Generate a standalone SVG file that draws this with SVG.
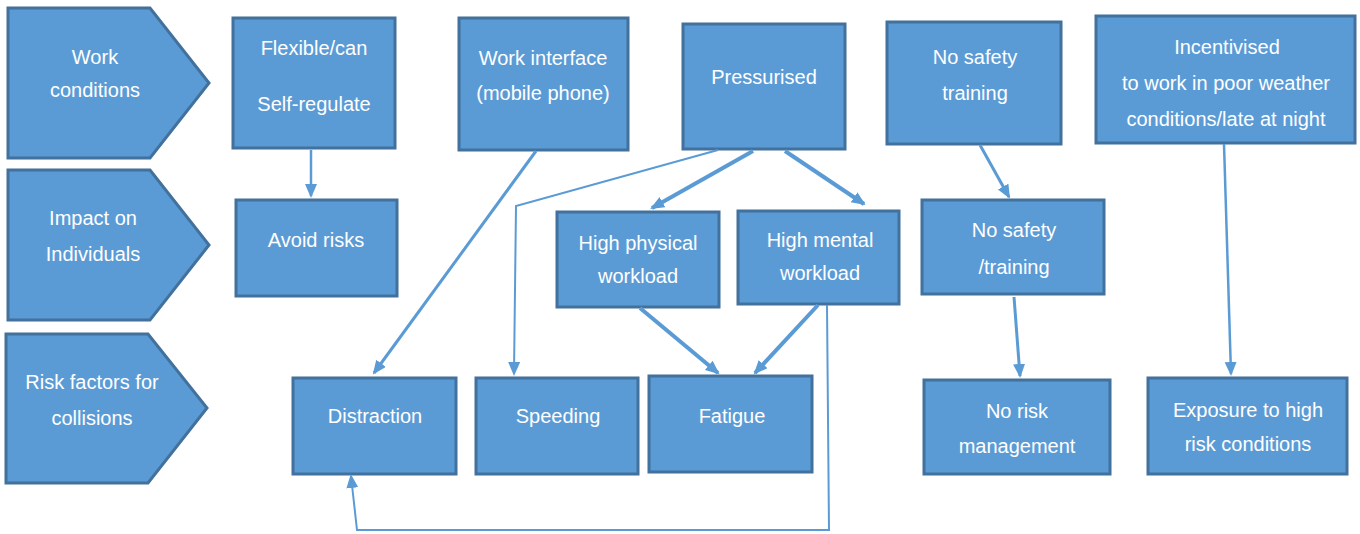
<svg xmlns="http://www.w3.org/2000/svg" width="1360" height="534" viewBox="0 0 1360 534">
<style>
.n{fill:#5B9BD5;stroke:#41719C;stroke-width:3}
.t{font-family:"Liberation Sans",Arial,sans-serif;font-size:20px;fill:#FFFFFF;text-anchor:middle}
.c{fill:none;stroke:#5B9BD5;stroke-linecap:butt}
</style>
<defs>
<marker id="ah" markerUnits="userSpaceOnUse" markerWidth="16" markerHeight="14" refX="12" refY="6" orient="auto">
<path d="M0,0 L14,6 L0,12 Z" fill="#5B9BD5"/>
</marker>
</defs>
<rect width="1360" height="534" fill="#FFFFFF"/>
<g id="row-work-conditions"><polygon class="n" points="8,8 150,8 209,83 150,158 8,158"/><text class="t" x="95" y="64">Work</text><text class="t" x="95" y="97">conditions</text></g>
<g id="row-impact"><polygon class="n" points="8,170 150,170 209,245 150,320 8,320"/><text class="t" x="93" y="225">Impact on</text><text class="t" x="93" y="261">Individuals</text></g>
<g id="row-risk"><polygon class="n" points="6,334 148,334 207,408 148,483 6,483"/><text class="t" x="92" y="389">Risk factors for</text><text class="t" x="92" y="425">collisions</text></g>
<g id="flexible"><rect class="n" x="233" y="18" width="162" height="130"/><text class="t" x="314" y="55">Flexible/can</text><text class="t" x="314" y="111">Self-regulate</text></g>
<g id="avoid-risks"><rect class="n" x="236" y="200" width="161" height="96"/><text class="t" x="316" y="247">Avoid risks</text></g>
<g id="work-interface"><rect class="n" x="459" y="18" width="169" height="132"/><text class="t" x="543" y="65">Work interface</text><text class="t" x="543" y="100">(mobile phone)</text></g>
<g id="pressurised"><rect class="n" x="683" y="24" width="162" height="125"/><text class="t" x="764" y="84">Pressurised</text></g>
<g id="no-safety-training"><rect class="n" x="887" y="22" width="174" height="122"/><text class="t" x="975" y="64">No safety</text><text class="t" x="975" y="100">training</text></g>
<g id="incentivised"><rect class="n" x="1096" y="16" width="259" height="127"/><text class="t" x="1227" y="54">Incentivised</text><text class="t" x="1226" y="90">to work in poor weather</text><text class="t" x="1226" y="126">conditions/late at night</text></g>
<g id="high-physical"><rect class="n" x="557" y="212" width="162" height="95"/><text class="t" x="638" y="250">High physical</text><text class="t" x="638" y="283">workload</text></g>
<g id="high-mental"><rect class="n" x="738" y="211" width="161" height="93"/><text class="t" x="820" y="247">High mental</text><text class="t" x="820" y="280">workload</text></g>
<g id="no-safety-training-2"><rect class="n" x="922" y="200" width="182" height="94"/><text class="t" x="1014" y="237">No safety</text><text class="t" x="1014" y="274">/training</text></g>
<g id="distraction"><rect class="n" x="293" y="378" width="163" height="96"/><text class="t" x="375" y="423">Distraction</text></g>
<g id="speeding"><rect class="n" x="476" y="378" width="162" height="96"/><text class="t" x="558" y="423">Speeding</text></g>
<g id="fatigue"><rect class="n" x="649" y="376" width="163" height="96"/><text class="t" x="732" y="423">Fatigue</text></g>
<g id="no-risk-management"><rect class="n" x="924" y="380" width="186" height="94"/><text class="t" x="1017" y="418">No risk</text><text class="t" x="1017" y="453">management</text></g>
<g id="exposure"><rect class="n" x="1148" y="378" width="199" height="96"/><text class="t" x="1248" y="417">Exposure to high</text><text class="t" x="1248" y="451">risk conditions</text></g>
<g id="connectors">
<path class="c" stroke-width="2.5" d="M311,150 L311,196" marker-end="url(#ah)"/>
<path class="c" stroke-width="3" d="M536,151 L374,373" marker-end="url(#ah)"/>
<path class="c" stroke-width="2" d="M718,150 L516,206 L514,374" marker-end="url(#ah)"/>
<path class="c" stroke-width="4" d="M753,151 L652,208" marker-end="url(#ah)"/>
<path class="c" stroke-width="4" d="M785,151 L864,204" marker-end="url(#ah)"/>
<path class="c" stroke-width="4" d="M640,308 L718,373" marker-end="url(#ah)"/>
<path class="c" stroke-width="4" d="M818,305 L755,373" marker-end="url(#ah)"/>
<path class="c" stroke-width="2" d="M827,305 L829,530 L357,530 L351,476" marker-end="url(#ah)"/>
<path class="c" stroke-width="3" d="M980,145 L1009,197" marker-end="url(#ah)"/>
<path class="c" stroke-width="3" d="M1014,297 L1020,376" marker-end="url(#ah)"/>
<path class="c" stroke-width="2.5" d="M1224,144 L1231,374" marker-end="url(#ah)"/>
</g>
</svg>
